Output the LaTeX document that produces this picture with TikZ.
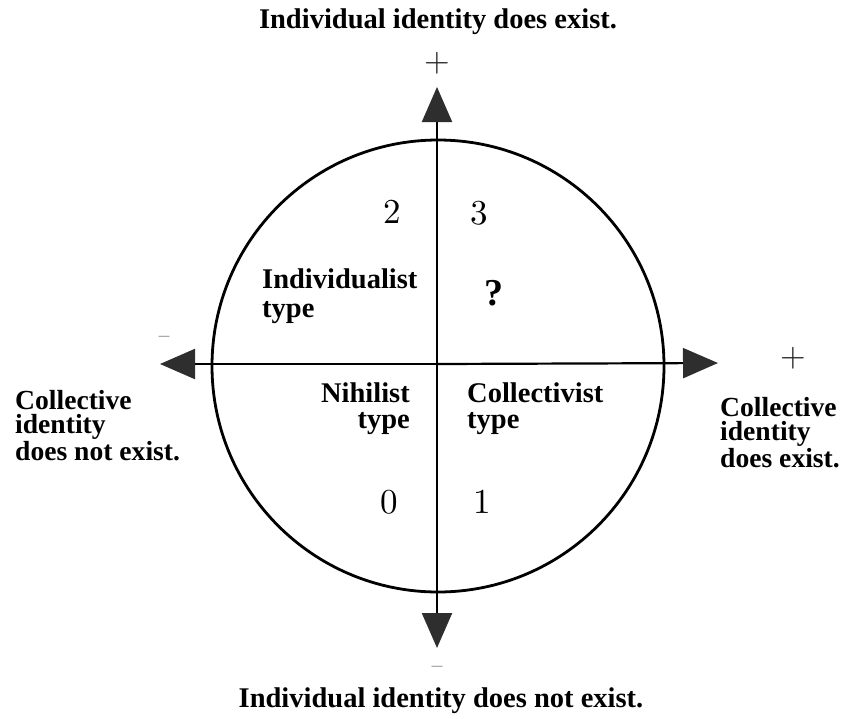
\documentclass[tikz,border=0pt]{standalone}
\usepackage{fontspec}
\newfontfamily\labelfont{Liberation Serif}
\newfontfamily\digitfont{lmroman10-regular}[Extension=.otf]
\usetikzlibrary{arrows.meta}

\tikzset{
  axis/.style={line width=2.2pt, black,
    -{Triangle[length=35pt,width=30pt,fill=black!82,color=black!82]}},
  ring/.style={circle, draw=black, line width=2.8pt, inner sep=0pt, minimum size=452pt},
  lab/.style={inner sep=0pt, align=left, font=\labelfont\bfseries\fontsize{28.5}{24}\selectfont},
  sidelab/.style={lab, anchor=base west, font=\labelfont\bfseries\fontsize{27.6}{24.5}\selectfont},
  quadnum/.style={inner sep=0pt, anchor=base, font=\digitfont\fontsize{35}{35}\selectfont},
  sign/.style={inner sep=0pt, anchor=center, text=black!85},
}

\begin{document}
\begin{tikzpicture}[x=1pt,y=-1pt]
  \useasboundingbox (0,0) rectangle (845,718);

  % circle and the two axes
  \node[ring] (ring) at (438,366) {};
  \coordinate (top)    at (437,87);
  \coordinate (bottom) at (437,648);
  \coordinate (left)   at (160,364);
  \coordinate (right)  at (718,363);
  \coordinate (hub)    at (437,364);
  \draw[axis] (hub) -- (top);
  \draw[axis] (hub) -- (bottom);
  \draw[axis] (hub) -- (left);
  \draw[axis] (hub) -- (right);

  % signs at the axis ends
  \node[sign, font=\digitfont\fontsize{33}{33}\selectfont] (ptop)   at (437,63)  {+};
  \node[sign, font=\digitfont\fontsize{33}{33}\selectfont] (pright) at (793,358) {+};
  \node[sign, font=\digitfont\fontsize{22}{22}\selectfont] (mleft)  at (164,339) {–};
  \node[sign, font=\digitfont\fontsize{22}{22}\selectfont] (mbot)   at (437,669) {–};

  % quadrant numbers
  \node[quadnum] (q2) at (392,223) {2};
  \node[quadnum] (q3) at (479,224) {3};
  \node[quadnum] (q0) at (389,513) {0};
  \node[quadnum] (q1) at (482,513) {1};

  % quadrant types
  \node[lab, anchor=base west, font=\labelfont\bfseries\fontsize{28.5}{29}\selectfont] (indiv) at (262,317) {Individualist\\type};
  \node[lab, anchor=base, font=\labelfont\bfseries\fontsize{38}{38}\selectfont] (quest) at (494,305) {?};
  \node[lab, anchor=base east, align=right, font=\labelfont\bfseries\fontsize{28.5}{26}\selectfont] (nihil) at (410,428) {Nihilist\\type};
  \node[lab, anchor=base west, font=\labelfont\bfseries\fontsize{28.5}{26}\selectfont] (coll) at (467,428) {Collectivist\\type};

  % axis titles
  \node[lab, anchor=base] (ttop) at (438,28) {Individual identity does exist.};
  \node[lab, anchor=base] (tbot) at (441,707) {Individual identity does not exist.};
  \node[sidelab] (tleft) at (15,460) {Collective\\identity\\does not exist.};
  \node[sidelab] (tright) at (720,467) {Collective\\identity\\does exist.};
\end{tikzpicture}
\end{document}
